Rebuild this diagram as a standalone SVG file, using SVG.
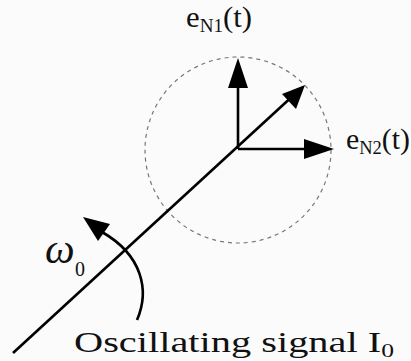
<svg xmlns="http://www.w3.org/2000/svg" width="411" height="361" viewBox="0 0 411 361">
<defs>
<style>
.ln{stroke:#000;stroke-width:2.6;fill:none}
.hd{fill:#000}
.t{font-family:"Liberation Serif","Times New Roman",serif;fill:#111}
</style>
</defs>
<rect width="411" height="361" fill="#fbfbfb"/>
<g id="circle">
<circle cx="238" cy="150" r="93" fill="none" stroke="#777" stroke-width="1.2" stroke-dasharray="4,4"/>
</g>
<g id="connectors">
<line class="ln" x1="13" y1="353" x2="296" y2="93"/>
<polygon class="hd" points="305,85 296,109 282,94"/>
<line class="ln" x1="238" y1="149" x2="238" y2="80"/>
<polygon class="hd" points="238,58 248,88 228,88"/>
<line class="ln" x1="238" y1="149" x2="312" y2="149"/>
<polygon class="hd" points="334,149 304,139 304,159"/>
<path class="ln" d="M137,320 C150,290 142,255 102,232"/>
<polygon class="hd" points="83,217 110,224 98,241"/>
</g>
<g id="eN1">
<text class="t" x="186" y="27" font-size="29" textLength="66" lengthAdjust="spacingAndGlyphs">e<tspan font-size="18" dy="5">N1</tspan><tspan dy="-5">(t)</tspan></text>
</g>
<g id="eN2">
<text class="t" x="346" y="149" font-size="29" textLength="64" lengthAdjust="spacingAndGlyphs">e<tspan font-size="18" dy="5">N2</tspan><tspan dy="-5">(t)</tspan></text>
</g>
<g id="omega">
<text class="t" x="45" y="263" font-size="42" font-style="italic">ω</text>
<text class="t" x="75" y="276" font-size="20">0</text>
</g>
<g id="signal">
<text class="t" x="74" y="352" font-size="30" textLength="320" lengthAdjust="spacingAndGlyphs">Oscillating signal I<tspan font-size="19" dy="5">0</tspan></text>
</g>
</svg>
